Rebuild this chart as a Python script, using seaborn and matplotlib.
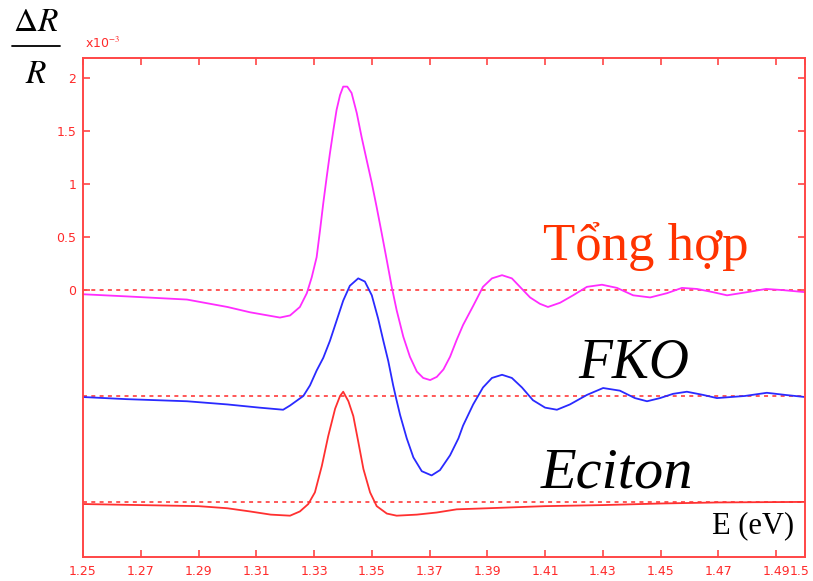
import numpy as np
import pandas as pd
import matplotlib
matplotlib.use("Agg")
import matplotlib.pyplot as plt
import matplotlib.transforms as mtransforms
import seaborn as sns
from matplotlib.lines import Line2D

# ---------------- data ----------------
E_total = [1.25, 1.265, 1.286, 1.30, 1.3078, 1.3182, 1.3217, 1.3251, 1.3275, 1.3292,
           1.3309, 1.3321, 1.3332, 1.3344, 1.3355, 1.3367, 1.3378, 1.3390, 1.3401,
           1.3415, 1.3430, 1.3448, 1.3465, 1.3482, 1.3500, 1.3517, 1.3534, 1.3552,
           1.3569, 1.3586, 1.3609, 1.3632, 1.3656, 1.3678, 1.3702, 1.3725, 1.3748,
           1.3771, 1.3794, 1.3816, 1.3851, 1.3885, 1.3916, 1.3951, 1.3985, 1.4013,
           1.4048, 1.4082, 1.4110, 1.4152, 1.4197, 1.4245, 1.4297, 1.4349, 1.4405,
           1.4464, 1.4522, 1.4574, 1.4626, 1.4681, 1.473, 1.480, 1.4865, 1.492, 1.50]
dR_total = [-0.04, -0.06, -0.09, -0.16, -0.21, -0.26, -0.24, -0.16, -0.03, 0.12,
            0.31, 0.57, 0.82, 1.07, 1.29, 1.51, 1.70, 1.84, 1.92,
            1.92, 1.86, 1.67, 1.44, 1.23, 1.01, 0.78, 0.54, 0.28,
            0.03, -0.19, -0.44, -0.63, -0.77, -0.83, -0.85, -0.82, -0.75,
            -0.63, -0.47, -0.33, -0.15, 0.03, 0.11, 0.14, 0.11, 0.03,
            -0.07, -0.13, -0.16, -0.12, -0.05, 0.03, 0.05, 0.02, -0.05,
            -0.07, -0.03, 0.02, 0.01, -0.02, -0.05, -0.02, 0.01, 0.0, -0.02]

E_fko = [1.25, 1.265, 1.286, 1.30, 1.311, 1.3193, 1.3217, 1.3263, 1.3286, 1.3309,
         1.3332, 1.3355, 1.3378, 1.3401, 1.3424, 1.3453, 1.3476, 1.3500, 1.3522,
         1.3540, 1.3557, 1.3574, 1.3584, 1.3598, 1.3621, 1.3644, 1.3673, 1.3707,
         1.3736, 1.3771, 1.3800, 1.3816, 1.3851, 1.3885, 1.3916, 1.3951, 1.3985,
         1.4020, 1.4058, 1.4100, 1.4141, 1.4186, 1.4245, 1.4301, 1.4359, 1.4411,
         1.4453, 1.4498, 1.4543, 1.4591, 1.4647, 1.4695, 1.4792, 1.4868, 1.4931, 1.50]
dR_fko = [-0.01, -0.03, -0.05, -0.08, -0.11, -0.13, -0.09, 0.0, 0.10, 0.24,
          0.36, 0.52, 0.71, 0.90, 1.04, 1.11, 1.08, 0.95, 0.73,
          0.52, 0.33, 0.10, -0.02, -0.18, -0.40, -0.58, -0.71, -0.75,
          -0.70, -0.56, -0.40, -0.28, -0.08, 0.08, 0.17, 0.20, 0.17,
          0.08, -0.04, -0.11, -0.13, -0.08, 0.01, 0.075, 0.05, -0.02,
          -0.05, -0.02, 0.02, 0.04, 0.01, -0.02, 0.0, 0.03, 0.01, -0.01]

E_exc = [1.25, 1.27, 1.29, 1.30, 1.3078, 1.315, 1.3217, 1.3251, 1.3280, 1.3303,
         1.3327, 1.3349, 1.3373, 1.3390, 1.3401, 1.3419, 1.3436, 1.3453, 1.3471,
         1.3494, 1.3517, 1.3552, 1.3586, 1.3656, 1.3725, 1.3794, 1.39, 1.41,
         1.43, 1.45, 1.47, 1.50]
dR_exc = [-0.02, -0.03, -0.04, -0.06, -0.09, -0.12, -0.13, -0.09, -0.02, 0.09,
          0.34, 0.62, 0.88, 1.0, 1.04, 0.95, 0.81, 0.57, 0.31,
          0.09, -0.04, -0.11, -0.13, -0.12, -0.10, -0.07, -0.06, -0.04,
          -0.03, -0.015, -0.005, 0.0]

series_names = ["Tong hop", "FKO", "Exciton"]
series_offsets = [0.0, -1.0, -2.0]

x_ticks = [1.25, 1.27, 1.29, 1.31, 1.33, 1.35, 1.37, 1.39, 1.41, 1.43, 1.45, 1.47, 1.49, 1.5]
x_ticklabels = ["1.25", "1.27", "1.29", "1.31", "1.33", "1.35", "1.37", "1.39",
                "1.41", "1.43", "1.45", "1.47", "1.49", "1.5"]
y_ticks = [0, 0.5, 1, 1.5, 2]
y_ticklabels = ["0", "0.5", "1", "1.5", "2"]

# ---------------- build table ----------------
frames = []
for name, E, v, off in zip(series_names, [E_total, E_fko, E_exc],
                           [dR_total, dR_fko, dR_exc], series_offsets):
    frames.append(pd.DataFrame({"E": E, "value": np.asarray(v) + off, "series": name}))
df = pd.concat(frames, ignore_index=True)

# ---------------- style ----------------
sns.set_theme(style="white")
plt.rcParams['font.family'] = ['DejaVu Sans']
plt.rcParams['mathtext.fontset'] = 'stix'

W, H = 813, 581
fig = plt.figure(figsize=(W / 100, H / 100), dpi=100)
ax = fig.add_axes([83 / W, 1 - 557 / H, (805 - 83) / W, (557 - 58) / H])

red_axis = '#ff4646'
for off in series_offsets:
    ax.axhline(off, ls=(0, (2.2, 2.4)), color='#ff4a4a', lw=1.3, zorder=1)

palette = {"Tong hop": "#ff2cff", "FKO": "#2a2aff", "Exciton": "#ff3030"}
sns.lineplot(data=df, x="E", y="value", hue="series", palette=palette,
             estimator=None, legend=False, ax=ax, lw=1.3, zorder=2)
for ln in ax.get_lines():
    ln.set_solid_joinstyle('round')

ax.set_xlim(1.25, 1.5)
ax.set_ylim(-2.52, 2.19)
ax.set_xticks(x_ticks)
ax.set_xticklabels(x_ticklabels)
ax.set_yticks(y_ticks)
ax.set_yticklabels(y_ticklabels)
ax.set_xlabel("")
ax.set_ylabel("")
ax.tick_params(direction='in', length=5, width=1.2, color=red_axis,
               labelcolor='#ff2a2a', labelsize=9, top=True, right=True,
               bottom=True, left=True)
ax.tick_params(axis='x', pad=6)
ax.tick_params(axis='y', pad=5)
for sp in ax.spines.values():
    sp.set_color(red_axis)
    sp.set_linewidth(1.4)
ax.grid(False)

# keep the last tick label ("1.5") inside the picture
last = ax.get_xticklabels()[-1]
last.set_transform(last.get_transform() +
                   mtransforms.ScaledTranslation(-4 / 72, 0, fig.dpi_scale_trans))

# ---------------- annotations ----------------
def fx(px):
    return px / W

def fy(py):
    return 1 - py / H

fig.text(fx(36), fy(31), r"$\Delta R$", fontsize=24, ha='center', va='baseline', color='black')
fig.text(fx(36), fy(83), r"$R$", fontsize=24, ha='center', va='baseline', color='black')
fig.add_artist(Line2D([fx(12), fx(60)], [fy(46), fy(46)], color='black', lw=1.3))
fig.text(fx(85), fy(48), r"x10$^{-3}$", fontsize=9, color='#ff2a2a', va='baseline')

fig.text(fx(543), fy(260), "Tổng hợp", family=['Liberation Serif', 'DejaVu Serif'],
         fontsize=38, color='#ff3300', va='baseline')
fig.text(fx(578), fy(377), "FKO", family=['Liberation Serif'], style='italic',
         fontsize=40, color='black', va='baseline')
fig.text(fx(541), fy(488), "Eciton", family=['Liberation Serif'], style='italic',
         fontsize=42, color='black', va='baseline')
fig.text(fx(712), fy(533), "E (eV)", family=['Liberation Serif'],
         fontsize=22, color='black', va='baseline')

fig.savefig("out.png", dpi=100, facecolor='white')
